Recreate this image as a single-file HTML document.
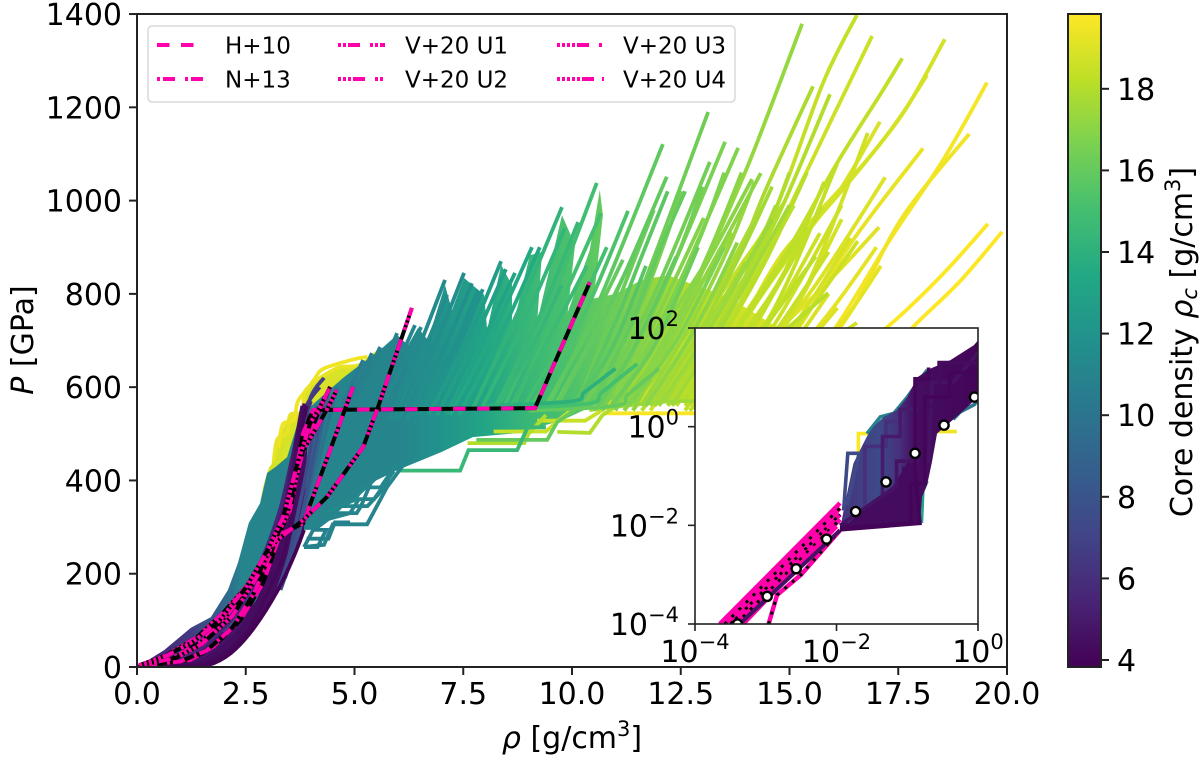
<!DOCTYPE html>
<html>
<head>
<meta charset="utf-8">
<title>Pressure vs density</title>
<style>
html,body{margin:0;padding:0;background:#fff}
svg{display:block}
text{font-family:"DejaVu Sans","Liberation Sans",sans-serif;fill:#000}
</style>
</head>
<body>
<svg id="chart" xmlns="http://www.w3.org/2000/svg" width="1200" height="757" viewBox="0 0 1200 757">
<defs>
<clipPath id="mainClip"><rect x="137" y="14" width="870" height="653"/></clipPath>
<clipPath id="insetClip"><rect x="695" y="328" width="283" height="296"/></clipPath>
</defs>
</svg>
<script>
// ---------- main panel: interior fill outlines
const backFillRho=[2.95,3.13,3.22,3.52,3.79,3.86,4.14,4.44,4.67,5.13,5.6,5.6,3.5];
const backFillPressure=[400,429,487,540,547,590,615,633,643,648,680,560,400];
const fillRho=[0,0.62,1.24,1.7,2.09,2.32,2.57,2.83,2.99,3.2,3.45,3.67,3.9,4.2,4.74,5.13,5.59,5.98,6.23,6.46,6.69,7.08,7.24,7.52,7.98,8.05,8.37,8.62,8.62,9.03,9.31,9.2,9.77,10.07,9.9,10.41,10.64,10.71,10.5,11,11.6,12.2,12.8,13.4,14,14.6,15,15,13,10.6,9.8,8.8,7.72,7,5.98,5.5,5.13,4.74,4.44,4.14,3.84,3.6,3.24,2.69,2.16,1.63,0];
const fillPressure=[0,36,84,107,165,223,309,351,416,430,450,515,551,576,620,648,680,712,690,727,701,819,765,834,798,722,862,819,722,883,890,740,969,905,760,894,1023,969,790,800,830,840,820,800,770,735,725,560,568,565,530,502,493,461,422,400,369,343,315,294,294,236,165,84,30,4,0];
const fillStopRho=[0,1.2,2,2.4,6,7,8,9,10,11,12,13,14,15];
const fillStopCore=[5,6.5,9,11,11,12,13.2,14.5,15.3,16.3,17.4,18.2,18.7,19];
const lowBandRho=[0,1,1.63,1.9,2.16,2.4,2.69,2.95,3.24,3.6,3.84,3.95,3.67,3.5,3.4,3.1,2.9,2.3,2,1.45,0.9,0.4,0];
const lowBandPressure=[0,1,4,14,30,52,84,122,165,236,294,560,500,429,300,236,165,84,75,62,30,14,2];

// ---------- main panel: planet curves
const curveCore=[
19.3,19.5,18.8,
10.5,10.6,10.8,11,11,11.2,11.3,11.4,11.5,11.6,11.7,11.8,11.9,12.6,12.8,13,13.4,13.5,14.2,14.3,14.5,14.9,15,15.3,15.8,15.9,16.3,16.4,16.6,16.8,17,17.1,
17.3,17.8,18,18.1,18.4,18.6,18.7,18.9,19,19.1,18.3,19.3,18.9,18.8,19.5,19.6,19.8,19.83,
15.6,16,16.2,16.7,17,17.4,17.6,18.2,18.5,
16.6,16.2,16.9,17.2,17.6,17.8,18.4,18.3,18.2,18.6,18.4,18.7,15,14.7,14.4,16,16.1,16.3,
17,17.4,17.8,18,18.2,18.5,18.6,18.8,
18.9,19,19.2,19.2,18.8,18.6,18.3,18.1,17.9,17.6,17.3,17,16.7,16.4,16,15.7,
11,10.8,11.2,11.3,14.5,16,18,19.7,17.5,14,15,16,18,18.5,18.5,11,11.2,10.9,
3.9,4.1,4.4,4.7,5,5.5,6,6.5,7,7.5,8,9,10
];
const curveRho=[
[3.13,3.22,3.45,3.52,3.79,3.86,4.14,4.44,4.67,5.13,5.6],
[3.25,3.35,3.6,3.7,3.95,4.1,4.3,5,5.3],
[2.8,2.9,3.06,3.2,3.4],
[4.7,5.2],[4.9,5.4],[5,5.59],[5.2,5.82],[5.3,5.98],[5.6,6.39],[5.7,6.53],
[5.8,6.5,7.08],[5.9,6.6,7.13],[6,6.8,7.52],[6.2,7,7.7],[6.4,7.2,7.84],[6.5,7.3,7.95],
[6.7,7.6,8.37],[6.9,7.7,8.48],[7.1,7.9,8.69],[7.2,8.2,9.08],[7.4,8.4,9.26],[7.7,8.7,9.77],
[7.9,8.9,9.84],[8.2,9.2,10.14],[8.4,9.5,10.57],[8.6,9.6,10.67],[9,10.2,11.29],[9.4,10.6,12.09],
[9.6,10.9,12.18],[10.2,11.3,13.13],[10.5,11.8,13.17],[10.7,12,13.52],[11,12.3,13.82],[11.2,12.6,14.14],[11.4,12.8,14.34],
[11.2,12.4,13.11,14.03,14.63,15.29],
[11.2,12.6,13.7,14.48,15.54],
[11.6,13,14,14.8,15.93],
[12.7,14,15,15.89],
[11.4,12.8,13.86,14.7,15.77,16.55],
[11.8,13.2,14.2,15,16,16.9],
[13.4,15,16.55],
[12.8,13.8,14.85,16,17.08],
[13,14.4,15.63,17.2],
[13,14.5,15.93,17.06],
[12.6,13.8,15,16.09,17.15,17.59],
[13.5,15,16.46,18.07],
[12.8,14,15.4,16,16.78,17.54,18.16],
[13,14.1,15.5,16.1,16.9,17.7,18.57],
[14.8,16.4,17.6,19.13],
[14.6,16,17.3,18.53,19.54],
[14.5,16,17.3,18.5,19.56],
[15.5,17,17.84,18.9,19.89],
[10,10.9,11.7],[10.6,11.4,12.4],[10.9,11.9,12.9],[11.3,12.4,13.5],[11.7,12.8,13.8],[12,13.2,14.6],[12.3,13.5,15],[12.9,14.2,15.6],[13.2,14.6,15.9],
[10.4,11.6,12.53],[10.1,11,11.88],[10.9,12,13.03],[11.2,12.4,13.43],[11.8,13,14],[11.9,13.4,14.69],[13,14.6,16.1],[12.8,14.3,15.75],[12.6,14,15.4],[13.6,15.1,16.57],[12.9,14.3,15.4],[13.4,15.2,16.8],
[8.9,9.9,10.8],[8.6,9.5,10.34],[8.3,9.1,9.77],[9.4,10.3,11.17],[9.6,10.5,11.4],[10,10.9,11.63],
[10.7,11.9,13.3],[11,12.2,13.7],[11.6,12.8,14.2],[11.9,13.1,14.9],[12.2,13.6,15.1],[12.7,14,15.2],[13.1,14.4,15.7],[13.5,14.9,16.2],
[13.6,14.8,15.9],[14,15,16.1],[14,15.3,16.3,17.1],[13.8,15,16,17],[13.6,14.7,15.6,16.4],[13.2,14.4,15.2,16.2],[12.8,14,14.9,15.8],[12.4,13.6,14.5,15.4],[12.2,13.2,14.2,15],[11.9,13,13.9,14.6],[11.6,12.7,13.6,14.2],[11.3,12.3,13.2,13.9],[11,12,12.9,13.5],[10.7,11.7,12.5,13],[10.4,11.3,12,12.6],[10.1,11,11.6,12.2],
[3.9,4.3,4.5,5.29,5.75,6.1],
[3.84,4.15,4.35,4.05,3.84],
[4.1,4.9,5.1,5.45,5.9],
[4.3,5,5.2,5.6,6],
[6,7.43,7.62,8.74,8.98,9.4],
[7.8,9.43,9.66,10.2],
[9.66,10.41,10.7,11.2],
[10.7,12.9],
[10.4,12,12.9],
[8,10,10.3,11],
[8.6,10.4,10.7,11.5],
[9,11,11.3,12],
[7.6,8.9,9,9.4],
[8.2,9.4,9.7,10.1],
[9.2,10.3,10.6,11],
[4.45,5.05,5.15,5.4],
[4.6,5.3,5.55,5.8],
[3.9,4.4,4.55,4.9],
[0,1,1.63,2.16,2.69,3.24,3.6,3.84],
[0,0.9,1.55,2.1,2.6,3,3.35,3.6,3.75,3.9],
[0,0.8,1.45,2,2.45,2.85,3.2,3.5,3.7,3.85],
[0,0.75,1.35,1.9,2.35,2.75,3.1,3.45,3.65,3.8],
[0,0.7,1.3,1.85,2.3,2.7,3.05,3.4,3.6,3.8],
[0,0.65,1.25,1.8,2.25,2.65,3,3.3,3.55,3.75],
[0,0.6,1.2,1.75,2.2,2.55,2.85,3.3,3.55,3.75,4],
[0,0.6,1.2,1.75,2.2,2.6,3,3.4,3.7,3.9,4.2],
[0,0.6,1.15,1.7,2.2,2.7,3.1,3.45,3.75,4,4.3],
[3.24,3.5,3.7,3.9,4.15],
[3.3,3.6,3.85,4.05,4.3],
[3.4,3.7,3.95,4.15,4.4],
[3.5,3.8,4.05,4.3,4.6]
];
const curvePressure=[
[429,487,502,540,547,590,615,633,643,648,680],
[470,520,530,570,600,620,640,660,665],
[300,365,422,440,480],
[560,658],[570,673],[570,686],[570,690],[560,716],[570,733],[570,729],
[530,690,830],[530,680,798],[530,680,845],[530,670,823],[540,670,808],[540,670,810],
[540,700,870],[540,690,853],[540,690,845],[540,720,900],[540,720,900],[550,750,986],
[550,740,941],[550,740,954],[550,780,1038],[550,750,973],[550,740,978],[550,780,1121],
[550,780,1051],[550,740,1190],[550,780,1083],[550,790,1126],[550,790,1113],[550,780,1046],[550,790,1059],
[550,720,873,1072,1216,1379],
[550,710,858,1029,1245],
[550,710,840,980,1228],
[550,650,730,802],
[550,720,858,986,1252,1398],
[550,720,840,986,1180,1353],
[550,640,738],
[560,720,888,1001,1169],
[560,680,823,1050],
[560,700,830,943],
[550,730,900,1080,1237,1305],
[560,700,915,1112],
[560,760,943,1008,1087,1179,1269],
[560,760,943,1010,1100,1200,1346],
[560,760,965,1143],
[560,720,915,1087,1253],
[550,640,733,840,950],
[550,640,729,825,933],
[560,680,860],[560,680,880],[560,690,900],[560,700,900],[560,720,910],[560,730,960],[560,740,990],[560,700,880],[560,710,890],
[560,780,1020],[560,770,980],[560,760,963],[560,730,900],[560,720,868],[560,730,990],[560,760,1080],[560,750,986],[560,750,943],[560,720,913],[560,720,855],[560,780,1145],
[560,720,900],[560,710,860],[560,690,819],[560,710,873],[560,710,879],[560,680,808],
[560,700,900],[560,710,930],[560,720,960],[560,730,1000],[560,740,990],[560,700,900],[560,720,930],[560,730,960],
[560,660,800],[560,650,770],[560,650,750,860],[560,660,770,900],[560,680,800,920],[560,700,820,990],[560,720,850,1040],[560,730,880,1060],[560,710,870,1060],[560,730,890,1030],[560,730,900,1040],[560,720,900,1060],[560,730,910,1060],[560,730,900,1030],[560,720,890,1020],[560,740,880,1020],
[258,262,306,306,386,430],
[257,257,294,294,257],
[310,330,360,360,420],
[330,358,385,385,440],
[421,421,465,465,514,514],
[487,487,525,560],
[504,502,540,570],
[544,544],
[551,568,570],
[560,570,590,640],
[555,565,590,650],
[550,560,585,640],
[480,480,500,540],
[505,505,530,560],
[528,528,545,575],
[330,330,345,400],
[345,345,370,400],
[275,275,310,310],
[0,1,4,30,84,165,236,294],
[0,2,8,35,85,160,235,350,490,560],
[0,3,12,40,85,155,240,350,500,565],
[0,4,16,48,90,160,240,350,480,560],
[0,6,22,58,100,165,250,350,460,550],
[0,8,28,66,110,175,255,340,440,530],
[0,10,34,74,115,170,225,340,440,510,570],
[0,12,38,80,125,180,250,360,480,560,600],
[0,14,42,85,135,200,280,380,490,580,620],
[165,240,330,420,560],
[165,250,350,450,580],
[190,280,380,470,590],
[220,300,390,490,600]
];

// ---------- reference models (main panel)
const modelNames=["H+10","N+13","V+20 U1","V+20 U2","V+20 U3","V+20 U4"];
const modelRho=[
[0.05,1.22,1.75,2.37,2.9,3.22,3.59,3.82,4.05,9.15,10.41],
[0.05,1,1.6,2.2,2.7,3.1,3.52,3.75,4.13,4.44],
[0.05,0.8,1.5,2.1,2.7,3.2,3.82,4.44,4.97],
[0.05,0.6,1.38,1.98,2.9,3.13,3.82,4.37,5.2,5.54,6.32],
[0.05,0.9,1.5,2.2,2.8,3.15,3.44,3.82,4.36,4.59],
[0.05,0.7,1.3,1.9,2.5,3,3.36,3.67,3.98,4.21,4.44]
];
const modelPressure=[
[2,15,43,100,180,266,386,502,551,555,825],
[2,12,35,85,160,250,337,444,537,601],
[3,18,55,115,190,280,308,465,601],
[3,21,64,116,214,266,315,365,472,557,770],
[3,20,50,110,200,270,322,465,551,594],
[4,25,55,100,170,250,322,429,522,558,600]
];
const modelDash=["12.5 11.5","3 3 12 10","3 2 3 2 12 10","3 2 3 2 3 2 12 10","3 2 3 2 3 2 3 2 12 10","3 2 3 2 3 2 3 2 3 2 12 8"];

// ---------- inset panel (log10 values)
const insetFillLogRho=[-1.95,-1.88,-1.76,-1.69,-1.57,-1.48,-1.33,-1.15,-1,-0.86,-0.67,-0.39,-0.06,0,0,-0.25,-0.58,-0.65,-0.72,-0.79,-0.82];
const insetFillLogP=[-2.09,-1.55,-0.74,-0.54,-0.2,0,0.2,0.33,0.6,1,1.18,1.35,1.65,1.75,0.6,0.27,-0.14,-0.71,-1.18,-1.42,-1.92];
const insetFillStopLogRho=[-1.95,-1.4,-1.1,-0.9,0];
const insetFillStopCore=[6.2,7.4,6,4.4,4];
const insetWedgeLogRho=[-1.95,-0.82,-0.82,-0.89,-1.2];
const insetWedgeLogP=[-2.09,-1.96,-1.3,-0.5,-1.2];
const insetCurveCore=[19.8,19.5,13,11,10,7.4,6,5,4.6,4.3,4,4];
const insetCurveLogRho=[
[-1.69,-1.69,-1.55],
[-0.6,-0.3],
[-0.8,-0.78,-0.72],
[-1.57,-1.38,-1.19,-1,-0.72],
[-0.35,-0.25,-0.05,0],
[-1.9,-1.84,-1.68,-1.85],
[-1.6,-1.6,-1.3,-1.3,-1.05],
[-1.35,-1.35,-1.1,-1.1,-0.85],
[-1.95,-1.15,-1.15,-0.7,-0.7,-0.65,-0.35,0],
[-1.95,-1.05,-1.05,-0.8,-0.8,-0.55,-0.55,0],
[-1.95,-0.95,-0.95,-0.75,-0.75,-0.4,-0.4,0],
[-1.95,-0.82,-0.89,-0.89,-0.7,-0.7]
];
const insetCurveLogP=[
[-0.54,-0.14,-0.14],
[-0.1,-0.1],
[-1.95,-1.3,-1.1],
[-0.14,0.2,0.27,0.6,1.15],
[0.15,0.3,0.45,0.55],
[-1.7,-0.54,-0.54,-1.6],
[-1.6,-0.4,-0.4,0.1,0.1],
[-1.4,-0.2,-0.2,0.35,0.35],
[-2,-1.2,-0.7,-0.7,-0.7,0.9,0.9,1.5],
[-2,-1.9,-0.85,-0.85,0.4,0.4,1.3,1.3],
[-2.05,-1.95,-1.15,-1.15,0.6,0.6,1.1,1.1],
[-2.09,-1.96,-0.9,0.97,0.97,1.2]
];
const insetModelLogRho=[[-3.65,-1.95],[-3.58,-1.95],[-3.5,-1.95],[-3.42,-1.95],[-3.32,-2],[-2.96,-2.84,-2.5,-1.95]];
const insetModelLogP=[[-4,-1.55],[-4,-1.65],[-4,-1.78],[-4,-1.88],[-4,-2.02],[-4,-3.41,-3,-2.1]];
const insetCoreLineLogRho=[-3.37,-1.95];
const insetCoreLineLogP=[-4,-2.1];
const markerLogRho=[-3.4,-2.98,-2.57,-2.14,-1.73,-1.3,-0.89,-0.48,-0.05];
const markerLogP=[-4,-3.44,-2.88,-2.28,-1.72,-1.12,-0.54,0.03,0.6];

// ---------- tick labels
const xTicks=[0,2.5,5,7.5,10,12.5,15,17.5,20];
const xTickLabels=["0.0","2.5","5.0","7.5","10.0","12.5","15.0","17.5","20.0"];
const yTicks=[0,200,400,600,800,1000,1200,1400];
const insetXTicks=[-4,-2,0];
const insetYTicks=[-4,-2,0,2];
const cbarTicks=[4,6,8,10,12,14,16,18];

// ---------- colormap
const viridisStops=["#440154","#482475","#414487","#355f8d","#2a788e","#21918c","#22a884","#44bf70","#7ad151","#bddf26","#fde725"];
const coreMin=3.83, coreMax=19.83;

// ---------- axis functions
const xMain=v=>137+v*43.5;
const yMain=v=>667-v*0.4664;
const xInset=v=>695+(v+4)*70.75;
const yInset=v=>624-(v+4)*49.33;
const yCbar=v=>660-(v-4)*40.8;

const NS="http://www.w3.org/2000/svg";
const svg=document.getElementById("chart");
const tickFont="30";
function el(tag,attrs,parent,text){
  const e=document.createElementNS(NS,tag);
  for(const k in attrs)e.setAttribute(k,attrs[k]);
  if(text!==undefined)e.textContent=text;
  (parent||svg).appendChild(e);
  return e;
}
function hex2rgb(h){return [parseInt(h.slice(1,3),16),parseInt(h.slice(3,5),16),parseInt(h.slice(5,7),16)];}
function viridis(core){
  let t=(core-coreMin)/(coreMax-coreMin);
  t=Math.max(0,Math.min(1,t))*10;
  const i=Math.min(9,Math.floor(t)),f=t-i;
  const a=hex2rgb(viridisStops[i]),b=hex2rgb(viridisStops[i+1]);
  return "rgb("+a.map((c,j)=>Math.round(c+(b[j]-c)*f)).join(",")+")";
}
function pathOf(xs,ys,fx,fy,close){
  return xs.map((x,i)=>(i?"L":"M")+fx(x).toFixed(1)+" "+fy(ys[i]).toFixed(1)).join("")+(close?"Z":"");
}
// Tails (strictly increasing in both density and pressure) are drawn as smooth curves; stair-steps stay angular.
function curvePath(xs,ys){
  const strict=xs.length>2&&xs.every((x,i)=>!i||(x>xs[i-1]&&ys[i]>ys[i-1]));
  if(!strict)return pathOf(xs,ys,xMain,yMain);
  const p=xs.map((x,i)=>[xMain(x),yMain(ys[i])]);
  let d="M"+p[0][0].toFixed(1)+" "+p[0][1].toFixed(1);
  for(let i=0;i<p.length-1;i++){
    const a=p[Math.max(0,i-1)],b=p[i],c=p[i+1],e=p[Math.min(p.length-1,i+2)];
    d+="C"+(b[0]+(c[0]-a[0])/6).toFixed(1)+" "+(b[1]+(c[1]-a[1])/6).toFixed(1)+" "+(c[0]-(e[0]-b[0])/6).toFixed(1)+" "+(c[1]-(e[1]-b[1])/6).toFixed(1)+" "+c[0].toFixed(1)+" "+c[1].toFixed(1);
  }
  return d;
}
function hGradient(id,stopX,stopCore,fx){
  const defs=svg.querySelector("defs");
  const g=el("linearGradient",{id:id,gradientUnits:"userSpaceOnUse",x1:fx(stopX[0]),x2:fx(stopX[stopX.length-1]),y1:0,y2:0},defs);
  const span=stopX[stopX.length-1]-stopX[0];
  stopX.forEach((x,i)=>el("stop",{offset:(x-stopX[0])/span,"stop-color":viridis(stopCore[i])},g));
}
function superLabel(base,sup,x,y,anchor,parent,name){
  const t=el("text",{x:x,y:y,"font-size":tickFont,"text-anchor":anchor},parent);
  
  
  el("tspan",{},t,base);
  el("tspan",{"font-size":"21",dy:"-13"},t,sup);
  return t;
}

// ---------- main plot
const mainPlot=el("g",{"clip-path":"url(#mainClip)"});


hGradient("fillGrad",fillStopRho,fillStopCore,xMain);
const order=curveCore.map((c,i)=>i).sort((a,b)=>curveCore[b]-curveCore[a]);
function drawCurve(i){
  const p=el("path",{d:curvePath(curveRho[i],curvePressure[i]),fill:"none",stroke:viridis(curveCore[i]),"stroke-width":"3.8","stroke-linejoin":"miter"},mainPlot);
  
  
}
const backFill=el("path",{d:pathOf(backFillRho,backFillPressure,xMain,yMain,true),fill:viridis(18.9)},mainPlot);


order.filter(i=>curveCore[i]>=18.7).forEach(drawCurve);
const fillPath=el("path",{d:pathOf(fillRho,fillPressure,xMain,yMain,true),fill:"url(#fillGrad)"},mainPlot);


order.filter(i=>curveCore[i]<18.7&&curveCore[i]>=9.5).forEach(drawCurve);
const lowBand=el("path",{d:pathOf(lowBandRho,lowBandPressure,xMain,yMain,true),fill:viridis(4.4)},mainPlot);


order.filter(i=>curveCore[i]<9.5).forEach(drawCurve);
modelRho.forEach((r,i)=>{
  const d=pathOf(r,modelPressure[i],xMain,yMain);
  const b=el("path",{d:d,fill:"none",stroke:"#000","stroke-width":"4"},mainPlot);
  
  
  const m=el("path",{d:d,fill:"none",stroke:"#ff00aa","stroke-width":"4","stroke-dasharray":modelDash[i]},mainPlot);
  
  
});

// ---------- main axes
const axes=el("g",{});


const frame=el("rect",{x:137,y:14,width:870,height:653,fill:"none",stroke:"#222","stroke-width":"2"},axes);


xTicks.forEach((v,i)=>{
  const t=el("line",{x1:xMain(v),x2:xMain(v),y1:667,y2:675,stroke:"#222","stroke-width":"2"},axes);
  
  
  const l=el("text",{x:xMain(v),y:704,"font-size":tickFont,"text-anchor":"middle"},axes,xTickLabels[i]);
  
  
});
yTicks.forEach(v=>{
  const t=el("line",{x1:129,x2:137,y1:yMain(v),y2:yMain(v),stroke:"#222","stroke-width":"2"},axes);
  
  
  const l=el("text",{x:122,y:yMain(v)+11,"font-size":tickFont,"text-anchor":"end"},axes,String(v));
  
  
});
const xTitle=el("text",{x:572,y:748,"font-size":"30","text-anchor":"middle"},axes);


el("tspan",{"font-style":"italic"},xTitle,"ρ");
el("tspan",{},xTitle," [g/cm");
el("tspan",{"font-size":"21",dy:"-12"},xTitle,"3");
el("tspan",{dy:"12"},xTitle,"]");
const yTitle=el("text",{x:0,y:0,"font-size":"30","text-anchor":"middle",transform:"translate(33,340) rotate(-90)"},axes);


el("tspan",{"font-style":"italic"},yTitle,"P");
el("tspan",{},yTitle," [GPa]");

// ---------- legend
const legend=el("g",{});


el("rect",{x:148,y:26,width:587,height:76,rx:4,fill:"#fff","fill-opacity":"0.85",stroke:"#d8d8d8","stroke-width":"1.5"},legend);
const legendCol=[0,0,1,1,2,2];
const legendRow=[0,1,0,1,0,1];
const legendHandleX=[157,338,557];
const legendTextX=[225,405,623];
const legendRowY=[45,79];
modelNames.forEach((n,i)=>{
  const c=legendCol[i],r=legendRow[i];
  const h=el("line",{x1:legendHandleX[c],x2:legendHandleX[c]+47,y1:legendRowY[r],y2:legendRowY[r],stroke:"#ff00aa","stroke-width":"4","stroke-dasharray":modelDash[i]},legend);
  
  
  const t=el("text",{x:legendTextX[c],y:legendRowY[r]+8.5,"font-size":"23"},legend,n);
  
  
});

// ---------- inset
const insetBg=el("rect",{x:695,y:328,width:283,height:296,fill:"#fff"});


const inset=el("g",{"clip-path":"url(#insetClip)"});


hGradient("insetGrad",insetFillStopLogRho,insetFillStopCore,xInset);
insetModelLogRho.forEach((r,i)=>{
  const d=pathOf(r,insetModelLogP[i],xInset,yInset);
  const a=el("path",{d:d,fill:"none",stroke:"#ff00aa","stroke-width":"4.5"},inset);
  
  
  if(i>0&&i<4||i===5){
    const b=el("path",{d:d,fill:"none",stroke:"#000","stroke-width":"3","stroke-dasharray":i%2?"3 7":"3 4 3 11"},inset);
    
    
  }
});
const insetCoreLine=el("path",{d:pathOf(insetCoreLineLogRho,insetCoreLineLogP,xInset,yInset),fill:"none",stroke:viridis(4.6),"stroke-width":"4"},inset);


const insetOrder=insetCurveCore.map((c,i)=>i);
insetOrder.slice(0,5).forEach(drawInsetCurve);
const insetFill=el("path",{d:pathOf(insetFillLogRho,insetFillLogP,xInset,yInset,true),fill:"url(#insetGrad)"},inset);


const insetWedge=el("path",{d:pathOf(insetWedgeLogRho,insetWedgeLogP,xInset,yInset,true),fill:viridis(4.3)},inset);


insetOrder.slice(5).forEach(drawInsetCurve);
function drawInsetCurve(i){
  const p=el("path",{d:pathOf(insetCurveLogRho[i],insetCurveLogP[i],xInset,yInset),fill:"none",stroke:viridis(insetCurveCore[i]),"stroke-width":"3.6"},inset);
  
  
}
markerLogRho.forEach((v,i)=>{
  const m=el("circle",{cx:xInset(v),cy:yInset(markerLogP[i]),r:4.6,fill:"#fff",stroke:"#000","stroke-width":"2.4"},inset);
  
  
});
const insetFrame=el("rect",{x:695,y:328,width:283,height:296,fill:"none",stroke:"#222","stroke-width":"1.6"});


insetXTicks.forEach(v=>{
  const t=el("line",{x1:xInset(v),x2:xInset(v),y1:624,y2:631,stroke:"#222","stroke-width":"1.6"});
  
  
  superLabel("10",v<0?"−"+Math.abs(v):String(v),xInset(v),662,"middle",svg,"inset-x-tick-label");
});
insetYTicks.forEach(v=>{
  const t=el("line",{x1:688,x2:695,y1:yInset(v),y2:yInset(v),stroke:"#222","stroke-width":"1.6"});
  
  
  superLabel("10",v<0?"−"+Math.abs(v):String(v),679,yInset(v)+11,"end",svg,"inset-y-tick-label");
});

// ---------- colorbar
const defs=svg.querySelector("defs");
const cg=el("linearGradient",{id:"cbarGrad",x1:0,x2:0,y1:1,y2:0},defs);
viridisStops.forEach((c,i)=>el("stop",{offset:i/10,"stop-color":c},cg));
const cbar=el("rect",{x:1068,y:14,width:33,height:653,fill:"url(#cbarGrad)",stroke:"#222","stroke-width":"2"});


cbarTicks.forEach(v=>{
  const t=el("line",{x1:1101,x2:1109,y1:yCbar(v),y2:yCbar(v),stroke:"#222","stroke-width":"2"});
  
  
  const l=el("text",{x:1117,y:yCbar(v)+11,"font-size":tickFont},svg,String(v));
  
  
});
const cTitle=el("text",{x:0,y:0,"font-size":"30","text-anchor":"middle",transform:"translate(1192,342) rotate(-90)"});


el("tspan",{},cTitle,"Core density ");
el("tspan",{"font-style":"italic"},cTitle,"ρ");
el("tspan",{"font-style":"italic","font-size":"21",dy:"5"},cTitle,"c");
el("tspan",{dy:"-5"},cTitle," [g/cm");
el("tspan",{"font-size":"21",dy:"-12"},cTitle,"3");
el("tspan",{dy:"12"},cTitle,"]");
</script>
</body>
</html>
